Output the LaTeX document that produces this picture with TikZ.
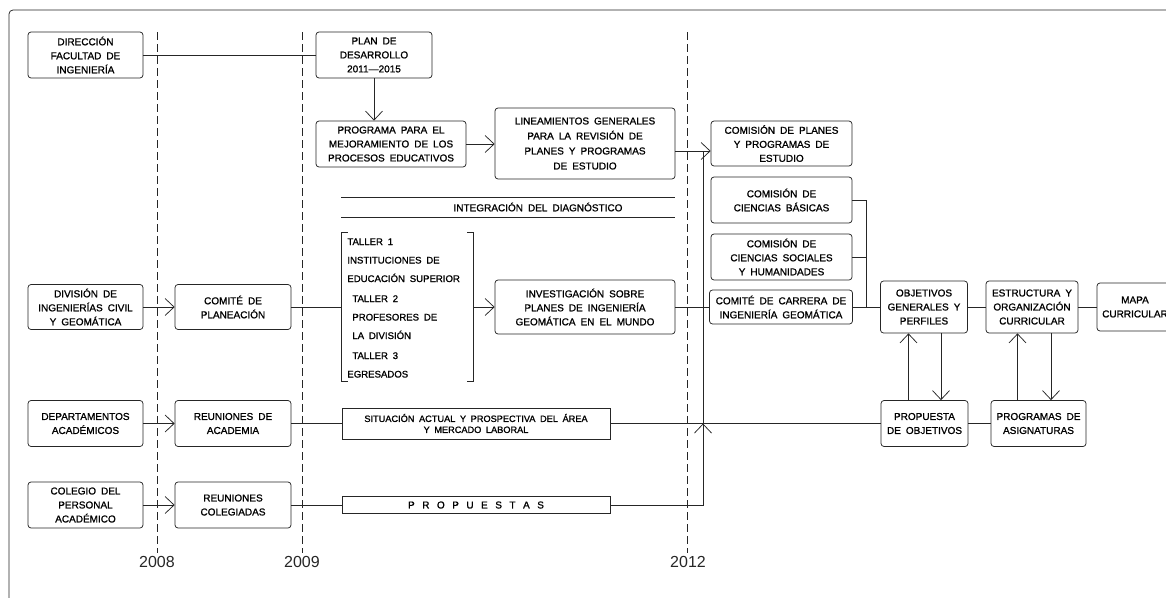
\documentclass[tikz,border=0pt]{standalone}
\usepackage{fontspec}
\setmainfont{Liberation Sans}[WordSpace=1.8]
\newfontfamily\cadfont{Liberation Sans}[WordSpace=1.8, FakeBold=1.1, Ligatures=TeX]
\usetikzlibrary{arrows.meta}

\begin{document}
\begin{tikzpicture}[x=1pt, y=-1pt, line width=0.75pt, draw=black!85,
                caja/.style={draw, rounded corners=3pt, align=center, inner sep=1pt, font=\cadfont\fontsize{10}{14}\selectfont},
                marco/.style={draw, align=center, inner sep=1pt, font=\cadfont\fontsize{9.2}{11}\selectfont},
                flecha/.style={-{Straight Barb[length=9pt,width=17pt]}},
                corte/.style={dash pattern=on 8pt off 4pt, line width=0.6pt},
                anio/.style={font=\fontsize{16}{16}\selectfont, text=black!85}]
                \useasboundingbox (0,0) rectangle (1166,597);
                \draw[rounded corners=4pt] (1200,10) -- (9,10) -- (9,620);

                % lineas de tiempo
                \draw[corte] (157,32) -- (157,553);
                \draw[corte] (302,32) -- (302,553);
                \draw[corte] (687,32) -- (687,553);
                \node[anio] (a2008) at (157,562) {2008};
                \node[anio] (a2009) at (302,562) {2009};
                \node[anio] (a2012) at (688,562) {2012};

                % columna de origen
                \node[caja, minimum width=115, minimum height=46] (dir) at (85.5,55) {DIRECCIÓN\\FACULTAD DE\\INGENIERÍA};
                \node[caja, minimum width=115, minimum height=45] (div) at (85.5,307) {DIVISIÓN DE\\INGENIERÍAS CIVIL\\Y GEOMÁTICA};
                \node[caja, minimum width=115, minimum height=46] (dep) at (85.5,423.5) {DEPARTAMENTOS\\ACADÉMICOS};
                \node[caja, minimum width=115, minimum height=46] (col) at (85.5,505) {COLEGIO DEL\\PERSONAL\\ACADÉMICO};

                \node[caja, minimum width=116, minimum height=45] (comite) at (233,307) {COMITÉ DE\\PLANEACIÓN};
                \node[caja, minimum width=116, minimum height=46] (reuac) at (233,423.5) {REUNIONES DE\\ACADEMIA};
                \node[caja, minimum width=116, minimum height=46] (reucol) at (233,505) {REUNIONES\\COLEGIADAS};

                % 2009 - 2012
                \node[caja, minimum width=116, minimum height=46] (plan) at (374,55) {PLAN DE\\DESARROLLO\\2011---2015};
                \node[caja, minimum width=150, minimum height=46] (prog) at (391,144) {PROGRAMA PARA EL\\MEJORAMIENTO DE LOS\\PROCESOS EDUCATIVOS};
                \node[caja, minimum width=180, minimum height=71, font=\cadfont\fontsize{10}{15}\selectfont] (linea) at (585,143.5) {LINEAMIENTOS GENERALES\\PARA LA REVISIÓN DE\\PLANES Y PROGRAMAS\\DE ESTUDIO};

                \draw (341,197) -- (675,197);
                \draw (341,217) -- (675,217);
                \node[font=\cadfont\fontsize{10}{11}\selectfont] (integ) at (538,207) {INTEGRACIÓN DEL DIAGNÓSTICO};

                \node[minimum width=131, minimum height=148] (taller) at (407.5,307) {};
                \node[anchor=west, align=left, inner sep=0pt, font=\cadfont\fontsize{9.6}{18.5}\selectfont] (tallertxt) at (347,308)
                    {TALLER 1\\INSTITUCIONES DE\\EDUCACIÓN SUPERIOR\\[1.5pt]
                     \hspace*{5pt}TALLER 2\\\hspace*{5pt}PROFESORES DE\\\hspace*{5pt}LA DIVISIÓN\\[1.5pt]
                     \hspace*{5pt}TALLER 3\\EGRESADOS};
                \draw ([xshift=6]taller.north west) -- (taller.north west) -- (taller.south west) -- ([xshift=6]taller.south west);
                \draw ([xshift=-6]taller.north east) -- (taller.north east) -- (taller.south east) -- ([xshift=-6]taller.south east);

                \node[caja, minimum width=180, minimum height=54] (invest) at (585,307) {INVESTIGACIÓN SOBRE\\PLANES DE INGENIERÍA\\GEOMÁTICA EN EL MUNDO};
                \node[marco, minimum width=268, minimum height=31] (sit) at (476,423.5) {SITUACIÓN ACTUAL Y PROSPECTIVA DEL ÁREA\\Y MERCADO LABORAL};
                \node[marco, minimum width=268, minimum height=17, font=\cadfont\fontsize{10}{11}\selectfont] (props) at (476,505)
                    {P\hspace{7.5pt}R\hspace{7.5pt}O\hspace{7.5pt}P\hspace{7.5pt}U\hspace{7.5pt}E\hspace{7.5pt}S\hspace{7.5pt}T\hspace{7.5pt}A\hspace{7.5pt}S};

                % comisiones
                \node[caja, minimum width=141, minimum height=45] (complan) at (781.5,143.5) {COMISIÓN DE PLANES\\Y PROGRAMAS DE\\ESTUDIO};
                \node[caja, minimum width=141, minimum height=46] (cienb) at (781.5,200) {COMISIÓN DE\\CIENCIAS BÁSICAS};
                \node[caja, minimum width=141, minimum height=46] (cienso) at (781.5,257) {COMISIÓN DE\\CIENCIAS SOCIALES\\Y HUMANIDADES};
                \node[caja, minimum width=143, minimum height=34] (comcar) at (781,307) {COMITÉ DE CARRERA DE\\INGENIERÍA GEOMÁTICA};

                % diseno curricular
                \node[caja, minimum width=87, minimum height=52] (obj) at (924,307) {OBJETIVOS\\GENERALES Y\\PERFILES};
                \node[caja, minimum width=92, minimum height=52] (estr) at (1032,307) {ESTRUCTURA Y\\ORGANIZACIÓN\\CURRICULAR};
                \node[caja, minimum width=76, minimum height=48] (mapa) at (1135,307) {MAPA\\CURRICULAR};
                \node[caja, minimum width=87, minimum height=46] (prop) at (924.5,423.5) {PROPUESTA\\DE OBJETIVOS};
                \node[caja, minimum width=95, minimum height=46] (progasig) at (1038.5,423.5) {PROGRAMAS DE\\ASIGNATURAS};

                \coordinate (bussup) at (703,151);
                \coordinate (businf) at (703,423.5);
                \coordinate (union) at (866,200);

                % conexiones
                \draw (dir) -- (plan);
                \draw[flecha] (plan.south) -- (plan.south |- prog.north);
                \draw[flecha] (prog) -- (prog -| linea.west);
                \draw[flecha] ([yshift=-7.5]linea.east) -- ([yshift=-7.5]complan.west);
                \draw (bussup) -- (businf);
                \draw[flecha] (div) -- (comite);
                \draw (comite) -- (taller.west);
                \draw[flecha] (taller.east) -- (invest);
                \draw (invest) -- (comcar);
                \draw[flecha] (dep) -- (reuac);
                \draw (reuac) -- (sit);
                \draw (sit) -- (prop);
                \draw[flecha] (col) -- (reucol);
                \draw (reucol) -- (props);
                \draw[flecha] (props) -| (businf);
                \draw (cienb) -- (union) -- (union |- comcar);
                \draw (cienso) -- (cienso -| union);
                \draw (comcar) -- (obj);
                \draw (obj) -- (estr);
                \draw (estr) -- (mapa);
                \draw (prop) -- (progasig);
                \draw[flecha] ([xshift=-16]prop.north) -- ([xshift=-16]prop.north |- obj.south);
                \draw[flecha] ([xshift=17]obj.south) -- ([xshift=17]obj.south |- prop.north);
                \draw[flecha] ([xshift=-21]progasig.north) -- ([xshift=-21]progasig.north |- estr.south);
                \draw[flecha] ([xshift=19]estr.south) -- ([xshift=19]estr.south |- progasig.north);
\end{tikzpicture}
\end{document}
